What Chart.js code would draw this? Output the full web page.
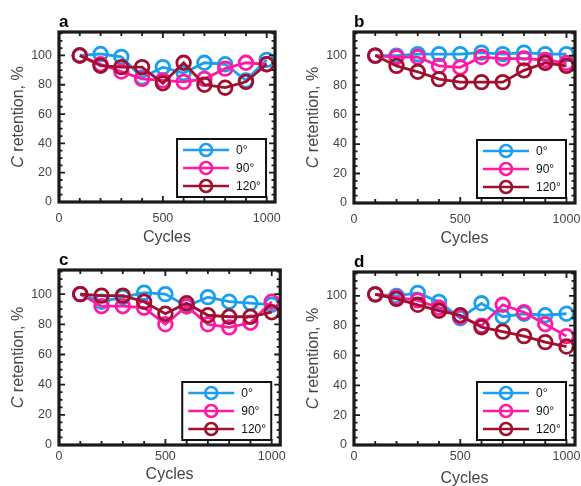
<!DOCTYPE html>
<html><head><meta charset="utf-8">
<script src="https://cdn.jsdelivr.net/npm/chart.js@4/dist/chart.umd.min.js"></script>
<style>
html,body{margin:0;padding:0;background:#fff;width:581px;height:486px;overflow:hidden;position:relative}
canvas{position:absolute}
</style></head><body>
<canvas id="pa"></canvas><canvas id="pb"></canvas><canvas id="pc"></canvas><canvas id="pd"></canvas>
<script>
// ---------- data ----------
const cycles = [100, 200, 300, 400, 500, 600, 700, 800, 900, 1000];
const seriesLabels = ['0°', '90°', '120°'];
const panelLetters = ['a', 'b', 'c', 'd'];
const xTickValues = [0, 500, 1000];
const yTickValues = [0, 20, 40, 60, 80, 100];
const xAxisTitle = 'Cycles';
const yAxisTitleItalic = 'C';
const yAxisTitleRest = ' retention, %';

const a_0   = [100, 101, 99, 85, 92, 88, 95, 94, 83, 97];
const a_90  = [100, 94, 89, 84, 83, 82, 84, 91, 95, 94];
const a_120 = [100, 93, 92, 92, 81, 95, 80, 78, 82, 94];

const b_0   = [100, 100, 101, 101, 101, 102, 101, 102, 101, 101];
const b_90  = [100, 99, 99, 93, 92, 99, 98, 98, 97, 95];
const b_120 = [100, 93, 89, 84, 82, 82, 82, 90, 95, 93];

const c_0   = [100, 95, 98, 101, 100, 92, 98, 95, 94, 93];
const c_90  = [100, 92, 92, 91, 80, 92, 80, 78, 81, 95];
const c_120 = [100, 99, 99, 95, 87, 94, 86, 85, 85, 88];

const d_0   = [101, 100, 102, 96, 85, 95, 86, 88, 87, 88];
const d_90  = [101, 99, 97, 92, 86, 80, 94, 89, 81, 73];
const d_120 = [101, 98, 94, 90, 87, 79, 76, 73, 69, 66];

const panelData = [[a_0, a_90, a_120], [b_0, b_90, b_120], [c_0, c_90, c_120], [d_0, d_90, d_120]];

// ---------- styles / layout ----------
const COLORS = ['#1a9ff0', '#ff1aa3', '#a0102e'];
const FONT = "'Liberation Sans', Arial, Helvetica, sans-serif";
const TXT = '#444444';
const X_MAX = 1040, Y_MAX = 116;
const LAYOUT = [
  {id:'pa', x:0,   y:0,   W:290, H:250, left:59, top:32, right:282, bottom:202, xpad:9, titleMid:238},
  {id:'pb', x:290, y:0,   W:310, H:250, left:64, top:32, right:285, bottom:203, xpad:9, titleMid:239},
  {id:'pc', x:0,   y:243, W:290, H:250, left:59, top:27, right:283, bottom:202, xpad:4, titleMid:231.5},
  {id:'pd', x:290, y:243, W:310, H:250, left:64, top:29, right:285, bottom:202, xpad:4, titleMid:236}
];

Chart.defaults.font.family = FONT;

const decorPlugin = {
  id: 'decor',
  afterDatasetsDraw(chart) {
    const {ctx, chartArea: ca, scales: {x, y}} = chart;
    const o = chart.options.plugins.decor;
    ctx.save();
    // inward ticks on all four sides
    ctx.strokeStyle = '#1a1a1a';
    ctx.lineWidth = 1.8;
    ctx.beginPath();
    for (let v = 0; v <= X_MAX; v += 100) {
      const px = x.getPixelForValue(v);
      if (px <= ca.left + 1 || px >= ca.right - 1) continue;
      const len = (v % 500 === 0) ? 6 : 4;
      ctx.moveTo(px, ca.bottom); ctx.lineTo(px, ca.bottom - len);
      ctx.moveTo(px, ca.top); ctx.lineTo(px, ca.top + len);
    }
    for (let v = 0; v <= Y_MAX; v += 5) {
      const py = y.getPixelForValue(v);
      if (py >= ca.bottom - 1 || py <= ca.top + 1) continue;
      const len = (v % 20 === 0) ? 6 : 3.5;
      ctx.moveTo(ca.left, py); ctx.lineTo(ca.left + len, py);
      ctx.moveTo(ca.right, py); ctx.lineTo(ca.right - len, py);
    }
    ctx.stroke();
    // frame
    ctx.lineWidth = 3.2;
    ctx.strokeRect(ca.left, ca.top, ca.right - ca.left, ca.bottom - ca.top);

    // legend box inside plot, bottom-right
    const bw = 89, bh = 58;
    const bx = ca.right - 9 - bw, by = ca.bottom - 5 - bh;
    ctx.fillStyle = '#fff';
    ctx.fillRect(bx, by, bw, bh);
    ctx.lineWidth = 2;
    ctx.strokeStyle = '#111';
    ctx.strokeRect(bx, by, bw, bh);
    chart.data.datasets.forEach((ds, i) => {
      const ry = by + 11 + i * 18;
      ctx.strokeStyle = ds.borderColor;
      ctx.lineWidth = 2.6;
      ctx.beginPath(); ctx.moveTo(bx + 6, ry); ctx.lineTo(bx + 52, ry); ctx.stroke();
      ctx.beginPath(); ctx.arc(bx + 29, ry, 6, 0, Math.PI * 2); ctx.stroke();
      ctx.fillStyle = '#111';
      ctx.font = '12px ' + FONT;
      ctx.textAlign = 'left'; ctx.textBaseline = 'middle';
      ctx.fillText(ds.label, bx + 59, ry + 1);
    });

    // panel letter
    ctx.fillStyle = '#000';
    ctx.font = 'bold 17px ' + FONT;
    ctx.textAlign = 'left'; ctx.textBaseline = 'alphabetic';
    ctx.fillText(o.letter, ca.left, ca.top - 5);

    // y axis title with italic C
    ctx.translate(ca.left - 40, (ca.top + ca.bottom) / 2);
    ctx.rotate(-Math.PI / 2);
    ctx.fillStyle = TXT;
    ctx.textBaseline = 'middle';
    ctx.font = 'italic 16px ' + FONT;
    const w1 = ctx.measureText(yAxisTitleItalic).width;
    ctx.font = '16px ' + FONT;
    const w2 = ctx.measureText(yAxisTitleRest).width;
    let sx = -(w1 + w2) / 2;
    ctx.textAlign = 'left';
    ctx.font = 'italic 16px ' + FONT;
    ctx.fillText(yAxisTitleItalic, sx, 0);
    ctx.font = '16px ' + FONT;
    ctx.fillText(yAxisTitleRest, sx + w1, 0);
    ctx.restore();
  }
};

LAYOUT.forEach((L, p) => {
  const cv = document.getElementById(L.id);
  cv.width = L.W; cv.height = L.H;
  cv.style.left = L.x + 'px'; cv.style.top = L.y + 'px';
  cv.style.width = L.W + 'px'; cv.style.height = L.H + 'px';
  const padB = L.H - L.titleMid - 9.6;
  new Chart(cv, {
    type: 'line',
    data: {
      datasets: panelData[p].map((vals, i) => ({
        label: seriesLabels[i],
        data: cycles.map((c, k) => ({x: c, y: vals[k]})),
        borderColor: COLORS[i],
        backgroundColor: 'rgba(0,0,0,0)',
        pointBackgroundColor: 'rgba(0,0,0,0)',
        pointBorderColor: COLORS[i],
        borderWidth: 2.8,
        pointRadius: 6.8,
        pointBorderWidth: 2.8,
        tension: 0,
        order: 2 - i
      }))
    },
    options: {
      responsive: false, animation: false, events: [],
      devicePixelRatio: 1,
      layout: {padding: {left: 0, top: L.top, right: L.W - L.right, bottom: padB}},
      plugins: {legend: {display: false}, tooltip: {enabled: false}, decor: {letter: panelLetters[p]}},
      scales: {
        x: {
          type: 'linear', min: 0, max: X_MAX,
          afterFit: s => { s.height = L.H - padB - L.bottom; },
          afterBuildTicks: s => { s.ticks = xTickValues.map(v => ({value: v})); },
          grid: {display: false, drawTicks: false}, border: {display: false},
          ticks: {padding: L.xpad, color: TXT, font: {size: 12.5}, maxRotation: 0, autoSkip: false, callback: v => String(v)},
          title: {display: true, text: xAxisTitle, color: TXT, font: {size: 16}, padding: 0}
        },
        y: {
          type: 'linear', min: 0, max: Y_MAX,
          afterFit: s => { s.width = L.left; },
          afterBuildTicks: s => { s.ticks = yTickValues.map(v => ({value: v})); },
          grid: {display: false, drawTicks: false}, border: {display: false},
          ticks: {padding: 7, color: TXT, font: {size: 12.5}, autoSkip: false, callback: v => String(v)}
        }
      }
    },
    plugins: [decorPlugin]
  });
});
</script>
</body></html>
